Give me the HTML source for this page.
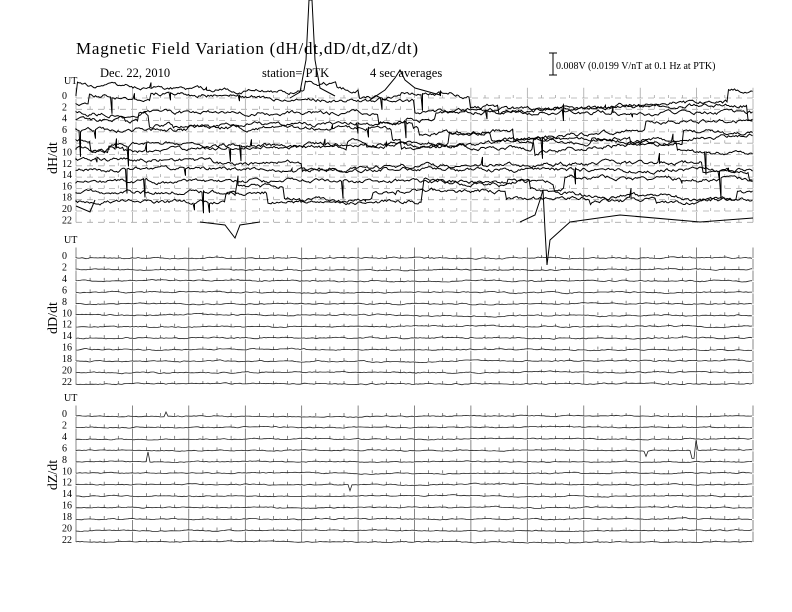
<!DOCTYPE html>
<html><head><meta charset="utf-8"><style>
html,body{margin:0;padding:0;background:#fff;width:792px;height:612px;overflow:hidden}
svg{display:block}
text{font-family:"Liberation Serif",serif;fill:#000}
</style></head><body>
<svg id="s" width="792" height="612" viewBox="0 0 792 612" xmlns="http://www.w3.org/2000/svg">
<text x="76" y="54" font-size="17" textLength="342">Magnetic Field Variation (dH/dt,dD/dt,dZ/dt)</text>
<text x="100" y="77" font-size="12.5">Dec. 22, 2010</text>
<text x="262" y="77" font-size="12.5">station= PTK</text>
<text x="370" y="77" font-size="12.5">4 sec averages</text>
<path d="M553 53V75M549 53H557M549 75H557" stroke="#000" stroke-width="1" fill="none"/>
<text x="556" y="69" font-size="10">0.008V (0.0199 V/nT at 0.1 Hz at PTK)</text>
<text x="64" y="84" font-size="10">UT</text>
<text x="64" y="243" font-size="10">UT</text>
<text x="64" y="401" font-size="10">UT</text>
<text transform="translate(57,158) rotate(-90)" font-size="14" text-anchor="middle">dH/dt</text>
<text transform="translate(57,318) rotate(-90)" font-size="14" text-anchor="middle">dD/dt</text>
<text transform="translate(57,475) rotate(-90)" font-size="14" text-anchor="middle">dZ/dt</text>
<g id="g"></g>
</svg>
<script>
(function(){
var g=document.getElementById('g'),ns='http://www.w3.org/2000/svg';
var seed=12345;function r(){seed=(seed*16807)%2147483647;return (seed-1)/2147483646;}
function add(tag,at){var e=document.createElementNS(ns,tag);for(var k in at)e.setAttribute(k,at[k]);g.appendChild(e);return e;}
var X0=76,X1=753,W=X1-X0;
function panel(y0,sp,dashed){
 var d='';
 for(var i=0;i<12;i++){
  var y=y0+i*sp;
  var t=add('text',{x:62,y:y+1,'font-size':10});t.textContent=String(i*2);
  if(dashed){add('line',{x1:X0,y1:y,x2:X1,y2:y,stroke:'#aaa','stroke-width':0.8,'stroke-dasharray':'6,5'});}
  for(var k=0;k<=48;k++){var x=X0+W*k/48;var h=(k%4==0)?sp-1:3;d+='M'+x.toFixed(1)+' '+y+'v'+(-h);}
 }
 add('path',{d:d,stroke:dashed?'#999':'#555','stroke-width':0.7,fill:'none'});
}
function quiet(y0,sp,amp,spikes){
 for(var i=0;i<12;i++){
  var y=y0+i*sp,v=0,w=0,d='M'+X0+' '+y;
  for(var x=X0;x<=X1;x+=2){v=v*0.7+(r()-0.5)*amp;w=w*0.97+(r()-0.5)*0.3;var yy=y+v+w;
   if(spikes)for(var s=0;s<spikes.length;s++){if(spikes[s][0]==i&&Math.abs(x-spikes[s][1])<1.1)yy=y+spikes[s][2];}
   d+='L'+x.toFixed(1)+' '+yy.toFixed(1);}
  add('path',{d:d,stroke:'#222','stroke-width':0.8,fill:'none'});
 }
}
panel(98,11.3,true);panel(258,11.45,false);panel(416,11.45,false);
var base=[96,104,112,120,130,140,150,160,170,182,192,202];
for(var i=0;i<12;i++){
 var y=base[i],v=0,d='M'+X0+' '+y,off=0;
 for(var x=X0;x<=X1;x+=1.5){
  v=v*0.8+(r()-0.5)*3;
  if(r()<0.015)off+=(r()-0.5)*26;
  off*=0.993;
  var yy=y+v+off;
  if(r()<0.012){d+='L'+x.toFixed(1)+' '+(yy+(r()-0.3)*36).toFixed(1);}
  d+='L'+x.toFixed(1)+' '+yy.toFixed(1);
 }
 add('path',{d:d,stroke:'#000','stroke-width':1,fill:'none'});
}
add('path',{d:'M290 98L300 92L306 60L309 0L312 0L315 60L320 88L335 96',stroke:'#000','stroke-width':1,fill:'none'});
add('path',{d:'M370 100L385 90L395 78L400 70L405 80L415 88L440 95',stroke:'#000','stroke-width':1,fill:'none'});
add('path',{d:'M520 222L535 215L540 200L543 190L545 230L547 265L550 240L570 222L620 215L700 222L753 218',stroke:'#000','stroke-width':1,fill:'none'});
add('path',{d:'M200 222L225 225L235 238L240 225L260 222',stroke:'#000','stroke-width':1,fill:'none'});
add('path',{d:'M76 206L90 212L95 200',stroke:'#000','stroke-width':1,fill:'none'});
quiet(258,11.45,1.0);
quiet(416,11.45,0.8,[[0,166,-4],[4,148,-10],[6,350,6],[3,646,6],[3,693,8],[3,696,-10]]);
})();
</script>
</body></html>
